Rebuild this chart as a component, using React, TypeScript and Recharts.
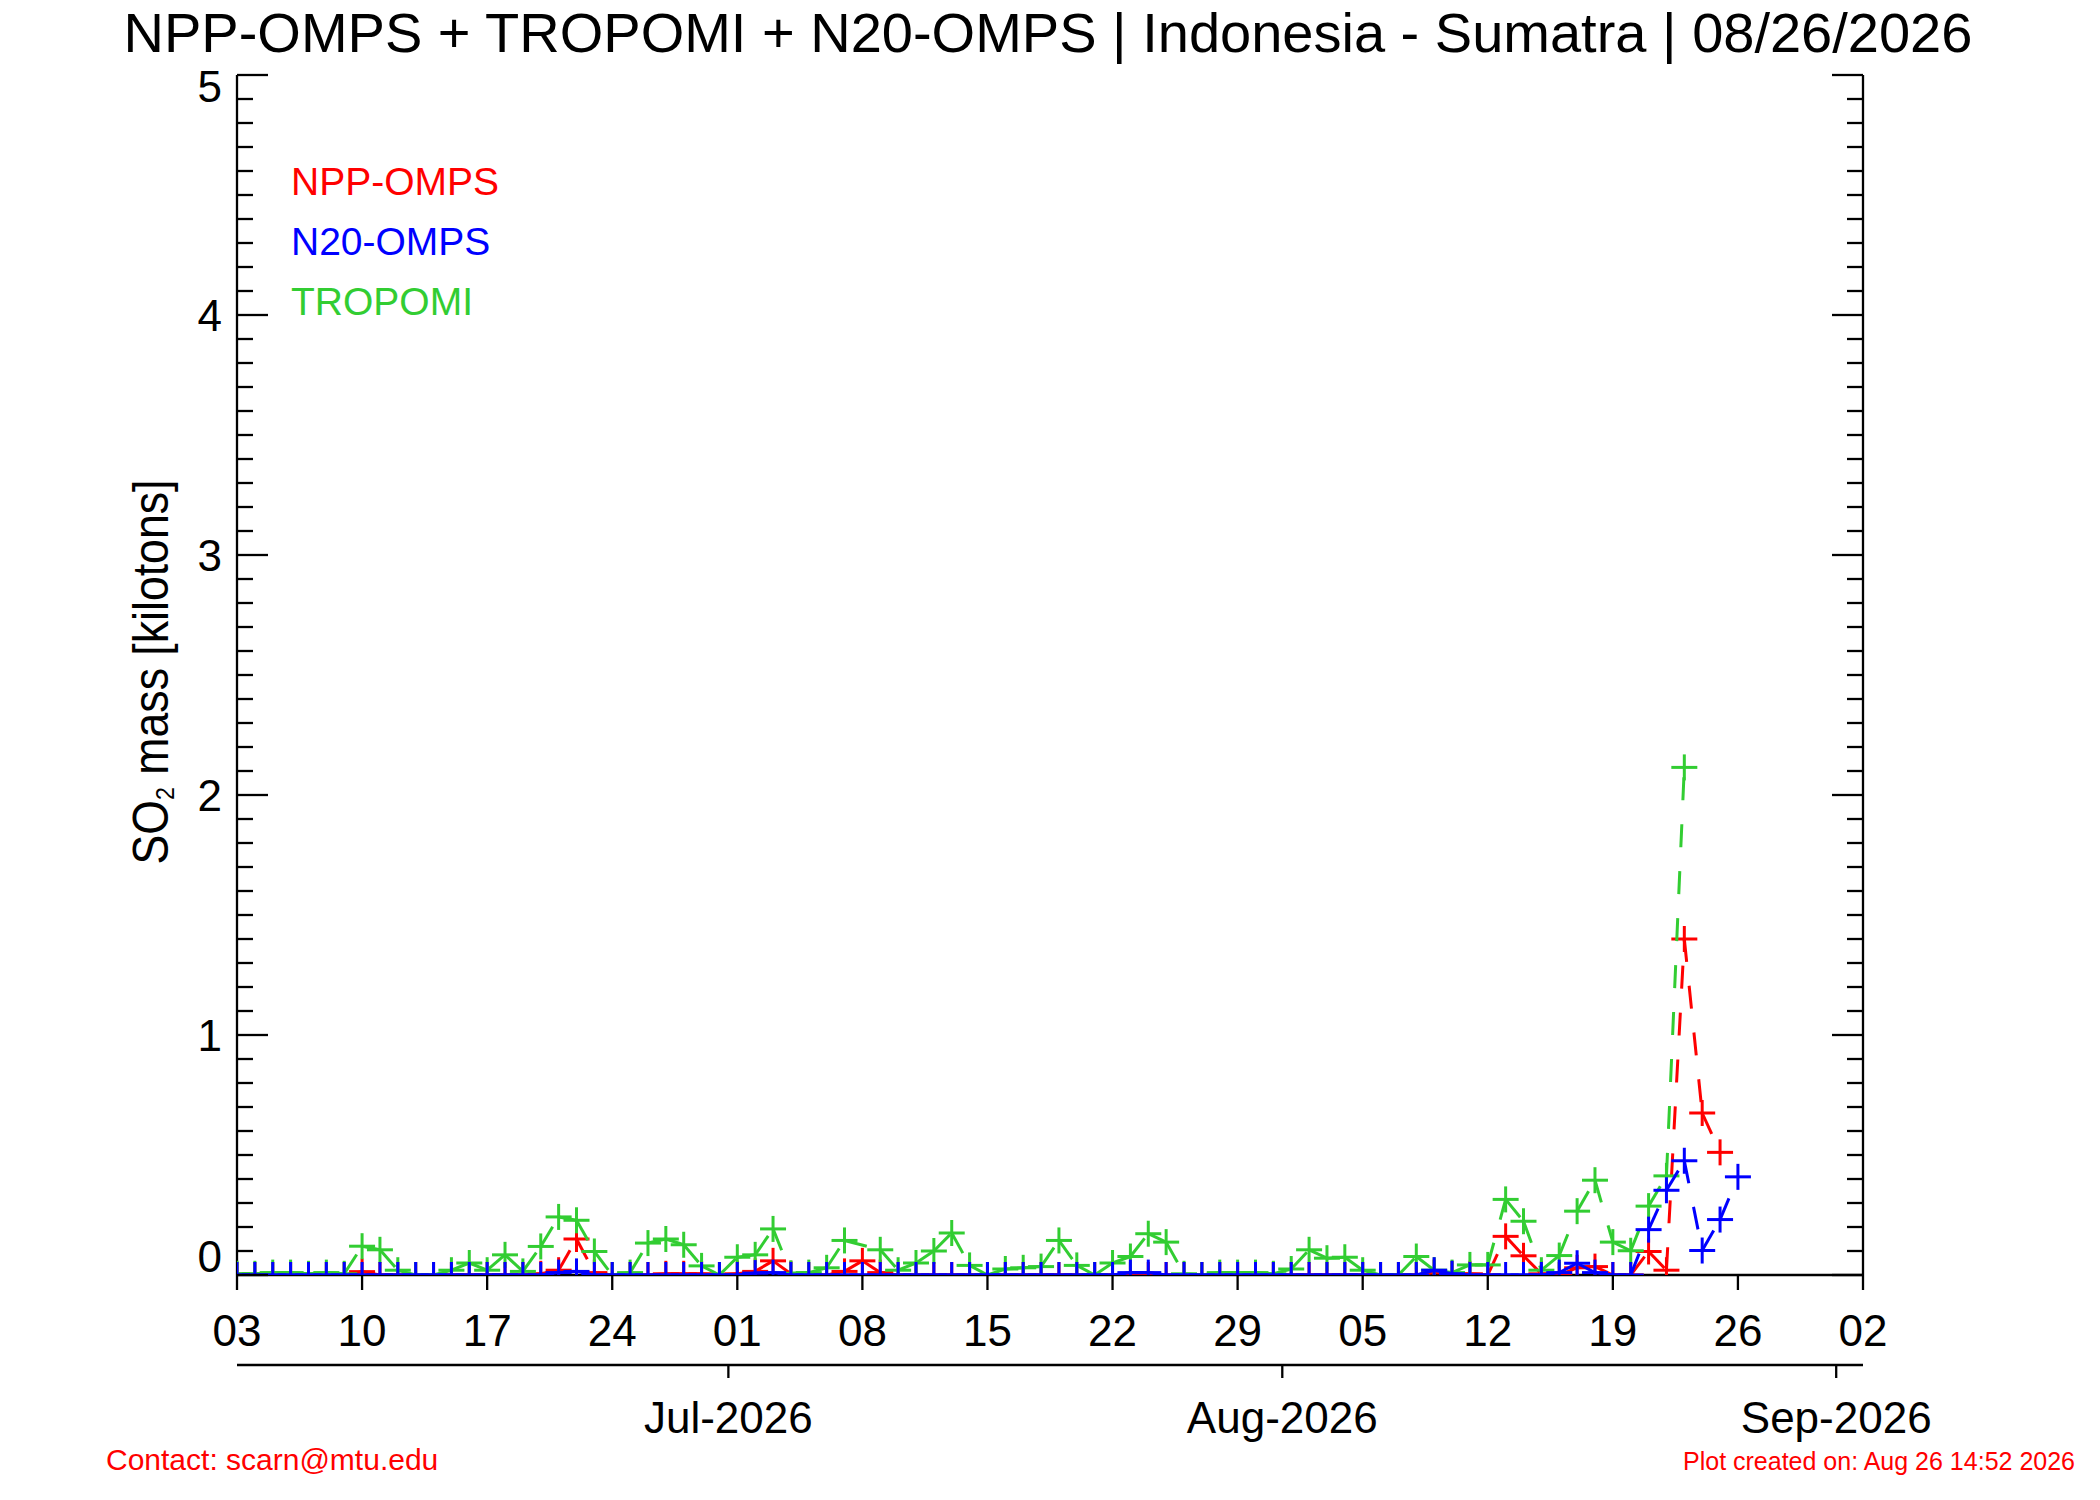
import React from 'react';
import { LineChart, Line, XAxis, YAxis } from 'recharts';

// day index 0 = 03 Jun 2026, 91 = 02 Sep 2026
const dayTicks = [0, 7, 14, 21, 28, 35, 42, 49, 56, 63, 70, 77, 84, 91];
const dayLabels = ['03', '10', '17', '24', '01', '08', '15', '22', '29', '05', '12', '19', '26', '02'];
const monthTicks = [27.5, 58.5, 89.5];
const monthLabels = ['Jul-2026', 'Aug-2026', 'Sep-2026'];

const nppOmps = [
  0, 0, 0, 0, 0, 0, 0,
  0.014, 0, 0, 0, 0, 0, 0,
  0, 0, 0, 0.005, 0.02, 0.15, 0.01,
  0, 0, 0, 0.005, 0.005, 0.005, 0,
  0.005, 0.015, 0.059, 0.005, 0, 0, 0.015,
  0.059, 0.01, 0, 0, 0, 0, 0,
  0, 0, 0, 0, 0, 0, 0,
  0, 0, 0, 0, 0, 0, 0,
  0, 0, 0, 0, 0, 0, 0,
  0, 0, 0, 0, 0.01, 0.005, 0.005,
  0, 0.161, 0.08, 0.005, 0, 0.03, 0.035,
  0, 0, 0.098, 0.02, 1.4, 0.675, 0.511,
];

const n20Omps = [
  0, 0, 0, 0, 0, 0, 0,
  0, 0, 0, 0, 0, 0, 0,
  0, 0, 0, 0, 0.01, 0.015, 0,
  0, 0, 0, 0, 0, 0, 0,
  0, 0.008, 0.01, 0, 0, 0, 0,
  0, 0, 0, 0, 0, 0, 0,
  0, 0, 0, 0, 0, 0, 0,
  0, 0.01, 0.01, 0, 0, 0, 0,
  0, 0, 0, 0, 0, 0, 0,
  0, 0, 0, 0, 0.02, 0.005, 0,
  0, 0, 0, 0, 0.01, 0.049, 0.01,
  0, 0, 0.189, 0.353, 0.476, 0.102, 0.231,
  0.409,
];

const tropomi = [
  0.005, 0.005, 0.01, 0.01, 0.005, 0.01, 0.005,
  0.12, 0.105, 0.02, 0, 0, 0.02, 0.05,
  0.02, 0.084, 0.015, 0.119, 0.242, 0.228, 0.098,
  0, 0.01, 0.133, 0.15, 0.126, 0.038, 0,
  0.074, 0.084, 0.192, 0.007, 0.01, 0.03, 0.144,
  null, 0.105, 0.02, 0.05, 0.1, 0.175, 0.04,
  0, 0.025, 0.03, 0.035, 0.144, 0.04, 0,
  0.05, 0.077, 0.172, 0.137, 0.005, 0, 0.01,
  0.01, 0.01, 0.005, 0.025, 0.105, 0.07, 0.074,
  0.02, 0, 0, 0.077, 0.02, 0.01, 0.042,
  0.042, 0.315, 0.224, 0.02, 0.081, 0.266, 0.395,
  0.137, 0.101, 0.287, 0.413, 2.115,
];

const RED = '#ff0000';
const BLUE = '#0000ff';
const GREEN = '#32cd32';
const FONT = '"Liberation Sans", Arial, Helvetica, sans-serif';

const data = n20Omps.map((_, i) => ({
  day: i,
  npp: nppOmps[i] ?? null,
  n20: n20Omps[i] ?? null,
  tropomi: tropomi[i] ?? null,
}));

const yTicks = Array.from({ length: 51 }, (_, i) => i / 10);
const isMajor = (v: number) => Math.abs(v - Math.round(v)) < 1e-6;

// IDL style: dash pattern restarts at every vertex, "+" symbol at each point
const lastPoint: Record<string, { x: number; y: number } | null> = {};
function plusDot(name: string, color: string) {
  return (props: any) => {
    const { cx, cy, index } = props;
    const key = `dot-${name}-${index}`;
    if (index === 0) lastPoint[name] = null;
    if (typeof cy !== 'number' || !Number.isFinite(cy) || typeof cx !== 'number') {
      return <g key={key} />;
    }
    const prev = lastPoint[name];
    lastPoint[name] = { x: cx, y: cy };
    return (
      <g key={key}>
        {prev && (
          <line x1={prev.x} y1={prev.y} x2={cx} y2={cy} stroke={color} strokeWidth={3} strokeDasharray="23 24" />
        )}
        <line x1={cx - 13} x2={cx + 13} y1={cy} y2={cy} stroke={color} strokeWidth={3} />
        <line x1={cx} x2={cx} y1={cy - 13} y2={cy + 13} stroke={color} strokeWidth={3} />
      </g>
    );
  };
}

const LeftTick = (props: any) => {
  const { x, y, payload } = props;
  const v = payload.value;
  const major = isMajor(v);
  let dy = 16;
  if (v === 5) dy = 27;
  if (v === 0) dy = -3;
  return (
    <g>
      <line x1={x} x2={x + (major ? 31 : 16)} y1={y} y2={y} stroke="#000" strokeWidth={2.3} />
      {major && (
        <text x={x - 15} y={y + dy} textAnchor="end" fontSize={44} fill="#000">
          {Math.round(v)}
        </text>
      )}
    </g>
  );
};

const RightTick = (props: any) => {
  const { x, y, payload } = props;
  const major = isMajor(payload.value);
  return <line x1={x} x2={x - (major ? 31 : 16)} y1={y} y2={y} stroke="#000" strokeWidth={2.3} />;
};

const axisStroke = { stroke: '#000', strokeWidth: 2.3 };

export default function App() {
  return (
    <div style={{ position: 'absolute', left: 0, top: 0, width: 2100, height: 1500, background: '#fff', fontFamily: FONT }}>
      <LineChart width={2100} height={1500} data={data} margin={{ top: 75, right: 0, bottom: 0, left: 0 }}>
        <XAxis
          xAxisId="top"
          orientation="top"
          type="number"
          dataKey="day"
          domain={[0, 91]}
          allowDataOverflow
          ticks={dayTicks}
          interval={0}
          height={0}
          tick={false}
          tickSize={14}
          axisLine={axisStroke}
          tickLine={axisStroke}
        />
        <XAxis
          xAxisId="day"
          orientation="bottom"
          type="number"
          dataKey="day"
          domain={[0, 91]}
          allowDataOverflow
          ticks={dayTicks}
          interval={0}
          height={90}
          tickSize={15}
          tickMargin={25}
          tickFormatter={(v: number) => dayLabels[dayTicks.indexOf(v)] ?? ''}
          tick={{ fontSize: 44, fill: '#000' }}
          axisLine={axisStroke}
          tickLine={axisStroke}
        />
        <XAxis
          xAxisId="month"
          orientation="bottom"
          type="number"
          dataKey="day"
          domain={[0, 91]}
          allowDataOverflow
          ticks={monthTicks}
          interval={0}
          height={135}
          tickSize={13}
          tickMargin={24}
          tickFormatter={(v: number) => monthLabels[monthTicks.indexOf(v)] ?? ''}
          tick={{ fontSize: 44, fill: '#000' }}
          axisLine={axisStroke}
          tickLine={axisStroke}
        />
        <YAxis
          yAxisId="left"
          orientation="left"
          type="number"
          domain={[0, 5]}
          allowDataOverflow
          ticks={yTicks}
          interval={0}
          width={237}
          tickSize={0}
          tickMargin={0}
          tickLine={false}
          tick={<LeftTick />}
          axisLine={axisStroke}
        />
        <YAxis
          yAxisId="right"
          orientation="right"
          type="number"
          domain={[0, 5]}
          allowDataOverflow
          ticks={yTicks}
          interval={0}
          width={237}
          tickSize={0}
          tickMargin={0}
          tickLine={false}
          tick={<RightTick />}
          axisLine={axisStroke}
        />
        <Line
          xAxisId="day"
          yAxisId="left"
          dataKey="npp"
          name="NPP-OMPS"
          stroke="none"
          dot={plusDot('npp', RED)}
          activeDot={false}
          isAnimationActive={false}
        />
        <Line
          xAxisId="day"
          yAxisId="left"
          dataKey="tropomi"
          name="TROPOMI"
          stroke="none"
          dot={plusDot('tropomi', GREEN)}
          activeDot={false}
          isAnimationActive={false}
        />
        <Line
          xAxisId="day"
          yAxisId="left"
          dataKey="n20"
          name="N20-OMPS"
          stroke="none"
          dot={plusDot('n20', BLUE)}
          activeDot={false}
          isAnimationActive={false}
        />
      </LineChart>
      <svg width={2100} height={1500} style={{ position: 'absolute', left: 0, top: 0, pointerEvents: 'none' }}>
        <text x={1048} y={52} textAnchor="middle" fontSize={56} fill="#000">
          NPP-OMPS + TROPOMI + N20-OMPS | Indonesia - Sumatra | 08/26/2026
        </text>
        <text x={291} y={195} fontSize={39} fill={RED}>NPP-OMPS</text>
        <text x={291} y={255} fontSize={39} fill={BLUE}>N20-OMPS</text>
        <text x={291} y={315} fontSize={39} fill={GREEN}>TROPOMI</text>
        <text
          x={168}
          y={672}
          transform="rotate(-90 168 672)"
          textAnchor="middle"
          fontSize={50}
          fill="#000"
          textLength={385}
          lengthAdjust="spacingAndGlyphs"
        >
          SO<tspan fontSize={26} dy={6}>2</tspan>
          <tspan dy={-6}> mass [kilotons]</tspan>
        </text>
        <text x={106} y={1470} fontSize={30} fill={RED}>Contact: scarn@mtu.edu</text>
        <text x={2075} y={1470} textAnchor="end" fontSize={25} fill={RED}>Plot created on: Aug 26 14:52 2026</text>
      </svg>
    </div>
  );
}
